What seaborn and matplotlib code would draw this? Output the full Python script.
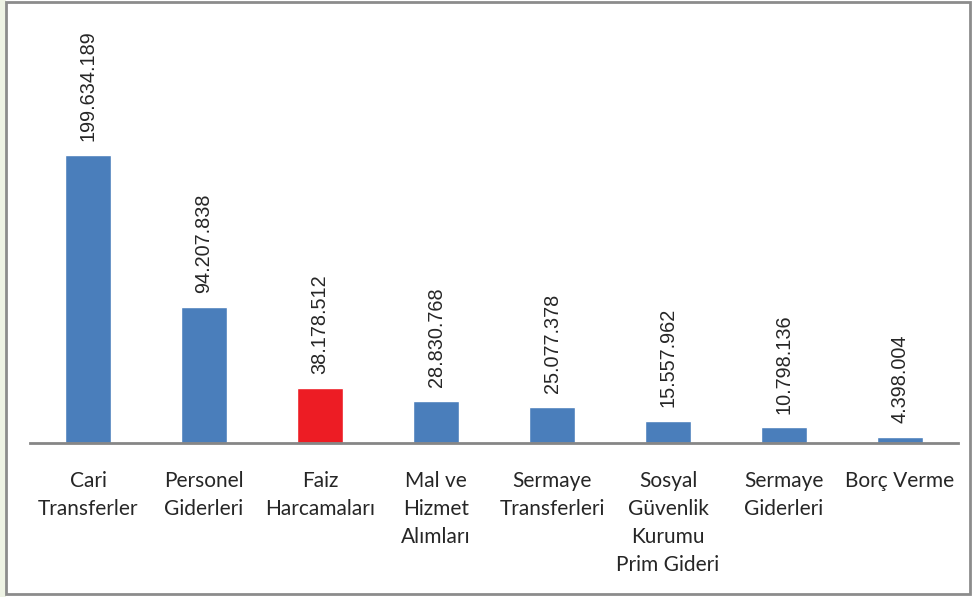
import matplotlib
matplotlib.use("Agg")
import matplotlib.pyplot as plt
import seaborn as sns
import pandas as pd
from matplotlib.patches import Rectangle

# Bütçe gider kalemleri (bin TL)
categories = [
    "Cari\nTransferler", "Personel\nGiderleri", "Faiz\nHarcamaları",
    "Mal ve\nHizmet\nAlımları", "Sermaye\nTransferleri",
    "Sosyal\nGüvenlik\nKurumu\nPrim Gideri", "Sermaye\nGiderleri", "Borç Verme",
]
values = [199634189, 94207838, 38178512, 28830768, 25077378, 15557962, 10798136, 4398004]
value_labels = ["199.634.189", "94.207.838", "38.178.512", "28.830.768",
                "25.077.378", "15.557.962", "10.798.136", "4.398.004"]
bar_colors = ["#4A7EBB", "#4A7EBB", "#ED1C24", "#4A7EBB",
              "#4A7EBB", "#4A7EBB", "#4A7EBB", "#4A7EBB"]

df = pd.DataFrame({"kalem": categories, "tutar": values})

sns.set_style("white")
plt.rcParams["font.family"] = ["Lato", "DejaVu Sans"]

fig = plt.figure(figsize=(9.72, 5.97), dpi=100)
ax = fig.add_axes([30 / 972, 1 - 443 / 597, 928 / 972, (443 - 82) / 597])

sns.barplot(data=df, x="kalem", y="tutar", hue="kalem", palette=bar_colors,
            legend=False, width=0.4, saturation=1, ax=ax)

ax.set_xlim(-0.5, 7.5)
ax.set_ylim(0, 250000000)
for i, (v, lab) in enumerate(zip(values, value_labels)):
    ax.annotate(lab, (i, v), xytext=(0, 10), textcoords="offset points",
                rotation=90, ha="center", va="bottom", fontsize=14.3,
                family="Liberation Sans", color="#262626")

ax.set_xlabel("")
ax.set_ylabel("")
ax.set_yticks([])
ax.tick_params(axis="x", length=0, pad=20, labelsize=15, colors="#262626")
for s in ["top", "right", "left"]:
    ax.spines[s].set_visible(False)
ax.spines["bottom"].set_color("#868686")
ax.spines["bottom"].set_linewidth(2)
for t in ax.get_xticklabels():
    t.set_va("top")
    t.set_multialignment("center")
    t.set_linespacing(1.5)

# Grafik çerçevesi
fig.patches.append(Rectangle((0, 0), 6 / 972, 1, transform=fig.transFigure,
                             facecolor="#EEF3E4", edgecolor="none"))
fig.patches.append(Rectangle((6 / 972, 3 / 597), 964 / 972, 592 / 597,
                             transform=fig.transFigure, facecolor="none",
                             edgecolor="#8C8C8C", linewidth=2))

fig.savefig("out.png", dpi=100)
